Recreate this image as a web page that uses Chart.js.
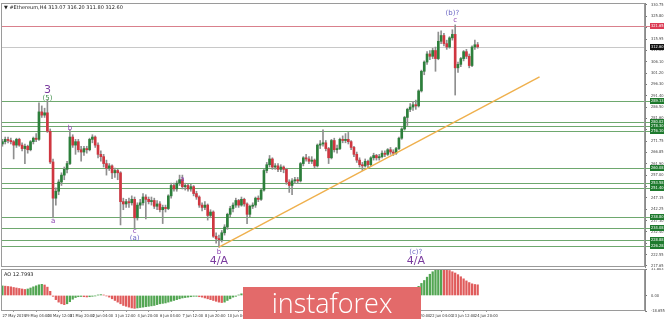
<!DOCTYPE html>
<html>
<head>
<meta charset="utf-8">
<script src="https://cdn.jsdelivr.net/npm/chart.js@4.4.0/dist/chart.umd.min.js"></script>
<style>
html, body { margin: 0; padding: 0; background: #fff; }
#wrap { position: relative; width: 665px; height: 320px; overflow: hidden; font-family: "DejaVu Sans", sans-serif; }
#main { position: absolute; left: 0; top: 0; }
#ao { position: absolute; left: 0; top: 268px; }
.hdr { position: absolute; left: 4px; top: 4px; font-size: 5px; color: #222; white-space: nowrap; }
.aolbl { position: absolute; left: 4px; top: 271px; font-size: 5px; color: #222; }
#brand { position: absolute; left: 243px; top: 287px; width: 178px; height: 32px; background: #e36a6a;
  color: #fff; font: 300 27px "Open Sans", sans-serif; text-align: center; line-height: 31px; }
</style>
</head>
<body>
<div id="wrap">
  <canvas id="main" width="665" height="268"></canvas>
  <canvas id="ao" width="665" height="52"></canvas>
  <div class="hdr">&#9660; #Ethereum,H4 313.07 316.20 311.80 312.60</div>
  <div class="aolbl">AO 12.7993</div>
  <div id="brand">instaforex</div>
</div>
<script>
// H4 candles, 27 May 20:00 .. 25 Jun 00:00
const opens = [
  270.5,271.5,272.5,272.0,271.5,270.0,272.5,270.0,268.5,269.5,268.0,271.5,273.0,272.5,284.4,283.0,284.0,276.0,262.7,247.0,
  250.0,254.0,257.0,259.5,262.0,273.5,270.0,271.5,268.0,267.0,268.5,268.0,272.5,273.5,270.0,266.0,265.0,262.0,260.0,261.0,
  258.0,259.0,258.0,245.5,244.5,245.5,245.0,246.5,238.5,244.0,245.0,247.5,246.5,245.5,246.0,243.5,244.5,242.0,243.0,242.5,
  248.0,252.5,251.0,253.5,255.0,252.0,252.5,251.0,252.0,249.0,247.5,244.0,243.0,244.0,239.5,241.0,230.5,229.5,229.0,232.0,
  234.5,240.0,242.5,244.0,246.0,244.0,246.5,244.5,240.0,243.5,244.0,247.0,246.5,250.5,259.0,261.5,264.0,260.5,261.0,259.5,
  260.5,259.5,254.0,252.5,254.5,255.0,254.5,262.0,264.5,264.0,263.0,263.5,261.0,270.0,270.5,271.0,268.5,264.5,272.0,268.0,
  268.5,272.5,272.0,272.5,271.5,269.0,266.0,263.5,261.5,261.0,263.0,261.5,264.5,265.5,264.5,265.0,266.5,266.0,268.0,267.0,
  266.5,268.5,273.0,277.0,282.0,285.5,286.5,287.5,287.0,293.5,302.0,306.0,309.5,308.5,311.0,307.5,315.0,317.5,314.0,312.5,
  316.5,318.0,303.5,305.0,307.5,310.5,308.5,304.5,312.5,313.5
];
const highs = [
  272.5,273.5,273.5,273.0,272.0,273.0,273.0,271.0,270.5,270.0,272.0,273.5,275.0,288.3,287.0,286.0,289.6,277.0,264.0,251.5,
  255.0,258.0,260.5,263.0,276.6,274.5,272.5,272.5,269.5,269.5,269.5,273.0,274.5,274.0,271.0,267.5,266.0,263.5,262.0,261.5,
  260.0,259.5,258.5,247.0,246.5,247.0,248.0,247.5,245.0,246.5,249.0,248.5,247.5,247.5,247.0,246.0,245.5,244.0,244.0,248.5,
  253.5,253.5,254.5,257.0,257.0,253.5,253.0,253.0,252.5,250.0,248.0,245.0,245.5,244.5,242.0,241.5,232.0,231.0,233.0,235.5,
  240.5,243.5,245.0,247.0,246.5,247.5,247.0,245.0,244.0,245.0,247.5,248.0,251.0,259.5,262.5,265.5,264.5,262.0,262.0,261.5,
  261.0,260.0,255.0,255.5,256.0,256.0,262.5,265.0,266.0,265.0,265.0,264.0,270.5,272.0,276.6,272.0,269.0,272.5,273.0,270.0,
  273.0,274.0,275.0,275.5,272.0,269.5,267.0,264.5,262.5,264.0,263.5,265.0,266.5,266.0,266.0,267.5,267.5,268.5,269.0,268.0,
  269.0,273.5,277.5,282.5,286.0,288.0,289.0,289.5,294.0,302.5,306.5,310.5,311.0,312.0,312.5,319.0,319.5,318.5,315.5,317.0,
  320.0,322.1,306.0,308.0,311.0,311.5,309.5,313.0,315.5,314.5
];
const lows = [
  269.5,270.5,271.0,270.5,264.0,269.0,269.5,267.5,262.0,266.5,267.5,270.5,271.5,272.0,282.0,282.0,275.5,262.0,238.4,244.0,
  248.5,252.5,255.0,258.0,261.5,269.0,266.0,267.0,263.0,265.5,266.5,267.5,271.0,269.0,264.5,263.0,260.5,257.0,259.0,255.5,
  256.0,255.0,235.4,242.0,243.0,243.0,244.0,234.0,237.5,242.5,244.0,238.0,244.5,244.0,242.5,242.0,241.0,236.0,241.0,242.0,
  247.0,250.0,250.0,252.5,251.0,250.5,250.0,250.0,248.0,246.5,243.0,241.5,242.0,237.5,238.5,230.0,227.5,225.8,228.0,231.0,
  233.5,239.0,241.0,243.0,243.0,243.5,243.5,236.0,239.0,242.5,243.0,245.5,246.0,250.0,258.0,260.5,259.5,259.5,258.5,258.5,
  258.0,253.0,249.5,248.5,253.5,253.5,254.0,261.0,263.0,262.0,262.0,260.0,260.5,268.5,269.5,267.5,262.0,264.0,267.0,266.5,
  268.0,271.0,271.0,270.5,268.0,265.0,262.5,260.5,259.0,260.5,260.0,261.0,263.5,263.5,263.5,264.5,265.0,265.5,266.0,265.5,
  266.0,268.0,272.5,276.5,278.5,284.5,285.0,285.5,286.5,293.0,300.5,305.0,307.0,307.5,302.0,307.0,314.0,313.0,311.5,312.0,
  315.5,291.7,301.5,304.0,306.5,307.5,303.5,304.0,311.5,312.0
];
const closes = [
  271.5,272.5,272.0,271.5,270.0,272.5,270.0,268.5,269.5,268.0,271.5,273.0,272.5,284.4,283.0,284.0,276.0,262.7,247.0,250.0,
  254.0,257.0,259.5,262.0,273.5,270.0,271.5,268.0,267.0,268.5,268.0,272.5,273.5,270.0,266.0,265.0,262.0,260.0,261.0,258.0,
  259.0,258.0,245.5,244.5,245.5,245.0,246.5,238.5,244.0,245.0,247.5,246.5,245.5,246.0,243.5,244.5,242.0,243.0,242.5,248.0,
  252.5,251.0,253.5,255.0,252.0,252.5,251.0,252.0,249.0,247.5,244.0,243.0,244.0,239.5,241.0,230.5,229.5,229.0,232.0,234.5,
  240.0,242.5,244.0,246.0,244.0,246.5,244.5,240.0,243.5,244.0,247.0,246.5,250.5,259.0,261.5,264.0,260.5,261.0,259.5,260.5,
  259.5,254.0,252.5,254.5,255.0,254.5,262.0,264.5,264.0,263.0,263.5,261.0,270.0,270.5,271.0,268.5,264.5,272.0,268.0,268.5,
  272.5,272.0,272.5,271.5,269.0,266.0,263.5,261.5,261.0,263.0,261.5,264.5,265.5,264.5,265.0,266.5,266.0,268.0,267.0,266.5,
  268.5,273.0,277.0,282.0,285.5,286.5,287.5,287.0,293.5,302.0,306.0,309.5,308.5,311.0,307.5,315.0,317.5,314.0,312.5,316.5,
  318.0,303.5,305.0,307.5,310.5,308.5,304.5,312.5,313.5,312.6
];

// Awesome Oscillator histogram
const aoValues = [
  11.5,11.2,10.8,10.4,9.6,9.0,8.4,7.8,7.2,7.8,9.0,10.4,11.6,12.8,13.4,12.6,10.0,5.0,-1.0,-5.0,
  -8.0,-10.0,-11.0,-10.0,-7.5,-4.5,-2.5,-1.5,-1.2,-1.5,-1.8,-1.5,-1.0,-0.5,0.5,1.0,0.5,-0.5,-2.0,-4.0,
  -6.0,-8.0,-10.0,-12.0,-13.0,-14.0,-15.0,-15.5,-15.0,-14.5,-14.0,-13.5,-13.0,-12.5,-12.0,-11.0,-10.0,-9.5,-9.0,-8.0,
  -7.0,-6.0,-5.0,-4.0,-3.0,-2.5,-2.0,-1.5,-1.0,-1.0,-1.5,-2.0,-3.0,-4.0,-5.0,-6.0,-7.0,-8.0,-8.5,-8.0,
  -6.0,-4.0,-2.0,-1.0,0.5,2.0,3.0,4.0,5.0,6.0,7.0,7.5,8.0,8.5,9.0,9.5,9.5,9.0,8.5,7.5,
  6.5,5.0,4.0,3.0,2.5,2.0,2.5,3.0,3.5,4.0,4.5,5.0,5.5,6.0,6.5,7.0,7.0,6.5,6.0,5.5,
  5.0,4.0,3.0,2.0,1.0,0.0,-1.0,-2.0,-3.0,-3.5,-4.0,-4.0,-3.5,-3.0,-3.0,-2.5,-2.0,-2.0,-1.5,-1.0,
  -0.5,-0.5,0.0,1.0,2.0,3.5,5.5,8.0,11.0,14.5,18.0,22.0,25.5,28.5,30.5,31.5,31.8,31.6,31.0,30.0,
  28.5,27.0,25.0,22.5,20.0,17.5,15.5,14.0,13.2,12.8
];

const slotCount = 229;   // bars + empty right shift
const slots = Array.from({ length: slotCount }, (_, i) => String(i));

const yTicks = [330.75, 325.80, 320.90, 315.95, 311.05, 306.10, 301.20, 296.30, 291.40, 286.50, 281.60, 276.70,
  271.75, 266.85, 261.90, 257.00, 252.10, 247.15, 242.25, 237.30, 232.40, 227.50, 222.55, 217.65];
const aoTicks = [-18.655, 0, 31.803];

const tickIdx = [0, 8, 16, 24, 32, 40, 48, 56, 64, 72, 80, 88, 96, 104, 112, 120, 128, 136, 144, 152, 160, 168];
const tickText = ['27 May 2019', '29 May 04:00', '30 May 12:00', '31 May 20:00', '2 Jun 04:00', '3 Jun 12:00',
  '4 Jun 20:00', '6 Jun 04:00', '7 Jun 12:00', '8 Jun 20:00', '10 Jun 04:00', '11 Jun 12:00', '12 Jun 20:00',
  '14 Jun 04:00', '15 Jun 12:00', '16 Jun 20:00', '18 Jun 04:00', '19 Jun 12:00', '20 Jun 20:00',
  '22 Jun 04:00', '23 Jun 12:00', '24 Jun 20:00'];

const greenLevels = [289.13, 280.02, 278.30, 276.10, 260.08, 253.58, 251.40, 238.80, 234.08, 228.88, 226.28];
const redLevel = 321.65;
const lastPrice = closes[closes.length - 1];

const trendIdx = [77, 191];
const trendVal = [225.8, 299.6];

const waveText = ['3', '(5)', 'a', 'b', 'c', '(a)', 'a', 'b', '4/A', '(b)?', 'c', '(c)?', '4/A'];
const waveIdx = [16, 16, 18, 24, 47, 47, 64, 77, 77, 160, 161, 147, 147];
const waveVal = [293.9, 290.4, 237.1, 277.2, 232.6, 229.6, 255.3, 223.5, 219.7, 327.3, 324.3, 223.5, 219.7];

const GREEN = '#2c7f3b';
const RED = '#cf3640';
const NARROW = '"Liberation Sans Narrow", "DejaVu Sans Condensed", sans-serif';
const TINY = { size: 4, family: NARROW };

const trendData = new Array(slotCount).fill(null);
trendIdx.forEach((ix, k) => { trendData[ix] = trendVal[k]; });

// vertical axis: fixed width, no extra label padding so the plot spans the full panel
function fitRight(s) {
  s.width = 20;
  s.paddingTop = 0;
  s.paddingBottom = 0;
}

const frame = {
  id: 'frame',
  afterDraw(chart) {
    const a = chart.chartArea, c = chart.ctx;
    c.save();
    c.strokeStyle = '#9a9a9a';
    c.lineWidth = 1;
    c.strokeRect(Math.round(a.left) + 0.5, Math.round(a.top) + 0.5,
      Math.round(a.right - a.left) - 1, Math.round(a.bottom - a.top) - 1);
    c.restore();
  }
};

function tagBox(c, chart, y, text, bg) {
  const x = chart.chartArea.right + 5;
  c.fillStyle = bg;
  c.fillRect(x, Math.round(y) - 3, 14, 6);
  c.fillStyle = '#fff';
  c.font = '4px ' + NARROW;
  c.textAlign = 'left';
  c.textBaseline = 'middle';
  c.fillText(text, x + 1, Math.round(y));
}

const levels = {
  id: 'levels',
  beforeDatasetsDraw(chart) {
    const a = chart.chartArea, y = chart.scales.y, c = chart.ctx;
    c.save();
    c.lineWidth = 1;
    const hline = (v, col) => {
      const py = Math.round(y.getPixelForValue(v)) + 0.5;
      c.strokeStyle = col;
      c.beginPath(); c.moveTo(a.left, py); c.lineTo(a.right, py); c.stroke();
    };
    greenLevels.forEach(v => hline(v, '#6ea86e'));
    hline(redLevel, '#d9808c');
    hline(lastPrice, '#c8c8c8');
    c.restore();
  },
  afterDraw(chart) {
    const a = chart.chartArea, y = chart.scales.y, c = chart.ctx;
    c.save();
    const tick = (v, col) => {
      const py = Math.round(y.getPixelForValue(v)) + 0.5;
      c.strokeStyle = col;
      c.beginPath(); c.moveTo(a.right, py); c.lineTo(a.right + 5, py); c.stroke();
    };
    greenLevels.forEach(v => tick(v, '#6ea86e'));
    tick(redLevel, '#d9808c');
    greenLevels.forEach(v => tagBox(c, chart, y.getPixelForValue(v), v.toFixed(2), '#1f7a2e'));
    tagBox(c, chart, y.getPixelForValue(redLevel), redLevel.toFixed(2), '#dc3c55');
    tagBox(c, chart, y.getPixelForValue(lastPrice), lastPrice.toFixed(2), '#111');
    c.restore();
  }
};

const waves = {
  id: 'waves',
  afterDatasetsDraw(chart) {
    const x = chart.scales.x, y = chart.scales.y, c = chart.ctx;
    c.save();
    c.textAlign = 'center';
    c.textBaseline = 'middle';
    waveText.forEach((t, k) => {
      let font = '7px "DejaVu Sans"', col = '#8a3fb0';
      if (t === '3' || t === '4/A') { font = '11px "DejaVu Sans"'; col = '#7a3a9e'; }
      else if (t === '(5)') { col = '#3f8f4a'; }
      else if (t.startsWith('(')) { col = '#6b66c4'; }
      c.font = font;
      c.fillStyle = col;
      c.fillText(t, x.getPixelForValue(waveIdx[k]), y.getPixelForValue(waveVal[k]));
    });
    c.restore();
  }
};

new Chart(document.getElementById('main'), {
  data: {
    labels: slots,
    datasets: [
      {
        type: 'line', data: trendData, spanGaps: true, borderColor: '#efb04d', borderWidth: 1.4,
        pointRadius: 0, order: 0
      },
      {
        type: 'bar', data: opens.map((o, i) => [o, closes[i]]),
        backgroundColor: opens.map((o, i) => closes[i] >= o ? GREEN : RED),
        barThickness: 2, grouped: false, minBarLength: 1, order: 1
      },
      {
        type: 'bar', data: lows.map((l, i) => [l, highs[i]]),
        backgroundColor: '#8f8f8f', barThickness: 1, grouped: false, order: 2
      }
    ]
  },
  options: {
    responsive: false,
    animation: false,
    layout: { padding: { top: 3, left: 1, bottom: 1, right: 0 } },
    plugins: { legend: { display: false }, tooltip: { enabled: false } },
    scales: {
      x: { type: 'category', display: false, offset: true },
      y: {
        position: 'right', min: 217.17, max: 331.6,
        afterBuildTicks: s => { s.ticks = yTicks.map(v => ({ value: v })); },
        afterFit: fitRight,
        ticks: { font: TINY, color: '#444', padding: 4, callback: v => v.toFixed(2) },
        grid: { drawOnChartArea: false, tickLength: 2, color: '#777' },
        border: { color: '#8a8a8a' }
      }
    }
  },
  plugins: [levels, waves, frame]
});

new Chart(document.getElementById('ao'), {
  type: 'bar',
  data: {
    labels: slots,
    datasets: [{
      data: aoValues,
      backgroundColor: aoValues.map((v, i) => (i === 0 || v >= aoValues[i - 1]) ? '#53a653' : '#e05c5c'),
      barThickness: 1.6
    }]
  },
  options: {
    responsive: false,
    animation: false,
    layout: { padding: { top: 1, left: 1, bottom: 0, right: 0 } },
    plugins: { legend: { display: false }, tooltip: { enabled: false } },
    scales: {
      x: {
        type: 'category', offset: true, display: true,
        afterBuildTicks: s => { s.ticks = tickIdx.map(v => ({ value: v })); },
        afterFit: s => { s.height = 9; s.paddingLeft = 0; s.paddingRight = 0; },
        grid: { display: true, drawOnChartArea: false, tickLength: 1, color: '#999' },
        border: { display: false },
        ticks: {
          display: true, autoSkip: false, maxRotation: 0, minRotation: 0, align: 'start', padding: 2,
          font: TINY, color: '#333',
          callback: v => tickText[tickIdx.indexOf(v)]
        }
      },
      y: {
        position: 'right', min: -18.655, max: 31.803,
        afterBuildTicks: s => { s.ticks = aoTicks.map(v => ({ value: v })); },
        afterFit: fitRight,
        ticks: { font: TINY, color: '#444', padding: 4,
          callback: v => v === 0 ? '0.00' : v.toFixed(3) },
        grid: { drawOnChartArea: false, tickLength: 2, color: '#777' },
        border: { color: '#8a8a8a' }
      }
    }
  },
  plugins: [frame]
});
</script>
</body>
</html>
